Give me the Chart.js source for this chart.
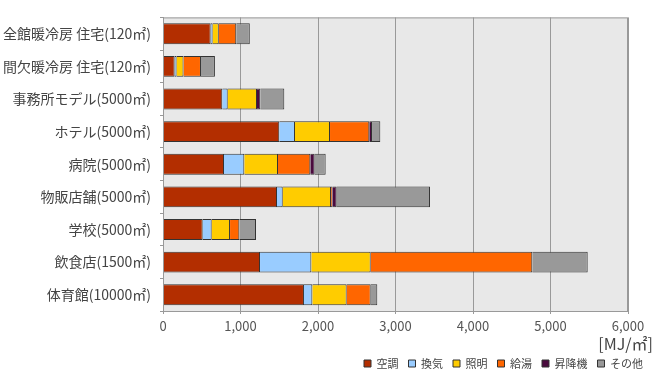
<!DOCTYPE html>
<html lang="ja">
<head>
<meta charset="utf-8">
<script src="https://cdn.jsdelivr.net/npm/chart.js@4/dist/chart.umd.min.js"></script>
<style>
  html, body { margin: 0; padding: 0; background: #fff; }
  #wrap { width: 657px; height: 371px; position: relative; }
</style>
</head>
<body>
<div id="wrap"><canvas id="energy-chart"></canvas></div>
<script>
const CATEGORIES = ['全館暖冷房 住宅(120㎡)', '間欠暖冷房 住宅(120㎡)', '事務所モデル(5000㎡)', 'ホテル(5000㎡)',
    '病院(5000㎡)', '物販店舗(5000㎡)', '学校(5000㎡)', '飲食店(1500㎡)', '体育館(10000㎡)'];
const SERIES_NAMES = ['空調', '換気', '照明', '給湯', '昇降機', 'その他'];
const AIR_CONDITIONING = [615, 150, 765, 1500, 787, 1471, 512, 1252, 1819];
const VENTILATION = [25, 25, 70, 203, 262, 74, 116, 662, 108];
const LIGHTING = [80, 90, 378, 452, 435, 623, 237, 766, 443];
const HOT_WATER = [225, 225, 0, 507, 417, 17, 120, 2085, 310];
const ELEVATOR = [0, 0, 42, 35, 56, 56, 0, 0, 0];
const OTHER = [175, 180, 310, 107, 142, 1204, 215, 715, 85];
const X_MAX = 6000;
const X_STEP = 1000;
const UNIT_LABEL = '[MJ/㎡]';

const COLORS = ['#B32E00', '#99CCFF', '#FFCC00', '#FF6600', '#4A0A3E', '#999999'];
const FONT = "'Noto Sans CJK JP', 'Noto Sans', sans-serif";
const LEGEND_HEIGHT = 23;

Chart.defaults.font.family = FONT;

function initDataset(label, data, color) {
    return {
        label: label,
        data: data,
        backgroundColor: color,
        borderColor: '#333333',
        borderWidth: 1,
        categoryPercentage: 1,
        barPercentage: 0.64
    };
}

// grey plot background + frame, and the unit label under the last tick
const plotArea = {
    id: 'plotArea',
    beforeInit(chart) {
        // keep the legend row tight against the bottom edge
        const fit = chart.legend.fit;
        chart.legend.fit = function () {
            fit.call(this);
            this.height = LEGEND_HEIGHT;
        };
    },
    beforeDraw(chart) {
        const {ctx, chartArea: a} = chart;
        ctx.save();
        ctx.fillStyle = '#E8E8E8';
        ctx.fillRect(a.left, a.top, a.right - a.left, a.bottom - a.top);
        ctx.restore();
    },
    afterDatasetsDraw(chart) {
        const {ctx, chartArea: a} = chart;
        ctx.save();
        ctx.strokeStyle = '#999999';
        ctx.lineWidth = 1;
        ctx.strokeRect(a.left + 0.5, a.top + 0.5, a.right - a.left - 1, a.bottom - a.top);
        ctx.fillStyle = '#444444';
        ctx.font = '16px ' + FONT;
        ctx.textAlign = 'right';
        ctx.textBaseline = 'middle';
        ctx.fillText(UNIT_LABEL, chart.width - 4, 344);
        ctx.restore();
    }
};

const datasets = [AIR_CONDITIONING, VENTILATION, LIGHTING, HOT_WATER, ELEVATOR, OTHER]
    .map((d, i) => initDataset(SERIES_NAMES[i], d, COLORS[i]));

new Chart(document.getElementById('energy-chart'), {
    type: 'bar',
    data: { labels: CATEGORIES, datasets: datasets },
    plugins: [plotArea],
    options: {
        indexAxis: 'y',
        responsive: true,
        maintainAspectRatio: false,
        animation: false,
        layout: { padding: { top: 5, right: 4, left: 0, bottom: 0 } },
        scales: {
            x: {
                stacked: true,
                min: 0,
                max: X_MAX,
                ticks: {
                    stepSize: X_STEP,
                    color: '#555555',
                    font: { size: 13 },
                    padding: 4,
                    callback: v => v.toLocaleString('en-US')
                },
                grid: { color: '#999999', tickLength: 3 },
                border: { color: '#999999' },
                afterFit(scale) { scale.height = 37; }
            },
            y: {
                stacked: true,
                ticks: { color: '#444444', font: { size: 14 }, padding: 9 },
                grid: { drawOnChartArea: false, tickLength: 3, color: '#999999' },
                border: { color: '#999999' },
                afterFit(scale) { scale.width = 163; }
            },
            spacer: {
                type: 'linear',
                position: 'right',
                ticks: { display: false },
                grid: { display: false },
                border: { display: false },
                afterFit(scale) { scale.width = 25; }
            }
        },
        plugins: {
            legend: {
                position: 'bottom',
                align: 'end',
                labels: {
                    color: '#444444',
                    font: { size: 11 },
                    boxWidth: 7,
                    boxHeight: 7,
                    padding: 10
                }
            },
            tooltip: { enabled: false }
        }
    }
});
</script>
</body>
</html>
